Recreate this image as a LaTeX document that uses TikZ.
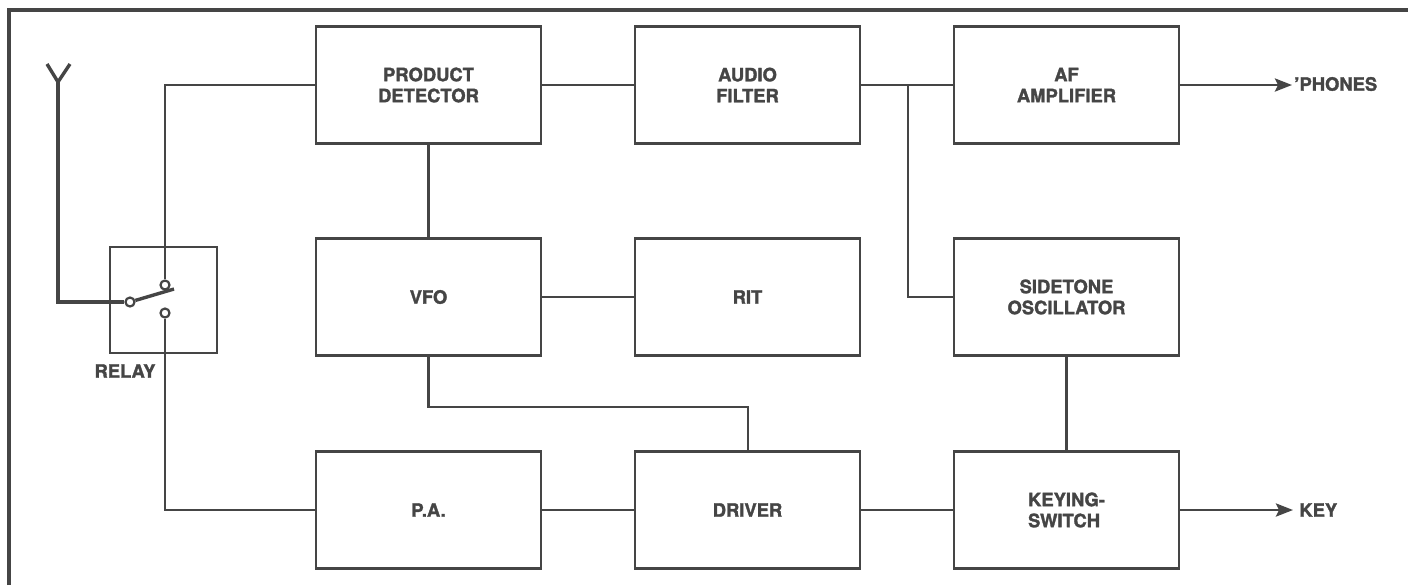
\documentclass[tikz,border=0pt]{standalone}
\usepackage{fontspec}
\setmainfont{TeX Gyre Heros}[BoldFeatures={FakeBold=1.6}]
\usetikzlibrary{arrows.meta}
\definecolor{ink}{HTML}{454545}
\begin{document}
\begin{tikzpicture}[x=0.5pt,y=-0.5pt,
  blk/.style={draw=ink, line width=1.45pt, minimum width=112.5pt, minimum height=58.5pt,
    inner sep=0pt, align=center, text=ink, font=\bfseries\fontsize{9.2}{10.5}\selectfont},
  wire/.style={draw=ink, line width=1.4pt},
  tip/.style={-{Stealth[length=8.5pt,width=6.5pt,inset=1.5pt]}},
  lbl/.style={text=ink, inner sep=0pt, font=\bfseries\fontsize{9.2}{10.5}\selectfont},
  contact/.style={circle, draw=ink, fill=white, line width=1.1pt, minimum size=4.5pt, inner sep=0pt},
  relaybox/.style={draw=ink, line width=1.45pt, minimum width=53.5pt, minimum height=53pt, inner sep=0pt}]
\useasboundingbox (0,0) rectangle (1408,585);
\fill[white] (0,0) rectangle (1408,585);
% frame
\draw[ink, line width=1.7pt] (9,585) -- (9,10) -- (1408,10);

% blocks
\node[blk] (pd)  at (428.5,85)  {PRODUCT\\DETECTOR};
\node[blk] (af)  at (747.5,85)  {AUDIO\\FILTER};
\node[blk] (amp) at (1066.5,85) {AF\\AMPLIFIER};
\node[blk] (vfo) at (428.5,297) {VFO};
\node[blk] (rit) at (747.5,297) {RIT};
\node[blk] (st)  at (1066.5,297) {SIDETONE\\OSCILLATOR};
\node[blk] (pa)  at (428.5,510) {P.A.};
\node[blk] (drv) at (747.5,510) {DRIVER};
\node[blk,align=left] (ks) at (1066.5,510) {KEYING-\\SWITCH};

% relay
\node[relaybox] (relay) at (163.5,300) {};
\node[contact] (c1) at (165,285) {};
\node[contact] (c2) at (165,313) {};
\node[contact] (pv) at (130,302) {};
\coordinate (bl) at (174,289);
\node[lbl] (rl) at (125,371) {RELAY};

% antenna
\coordinate (ant) at (58,82);
\coordinate (a1) at (47,64);
\coordinate (a2) at (70,64);
\draw[wire, line width=1.7pt] (a1) -- (ant) -- (a2);
\draw[wire, line width=1.6pt] (ant) |- (pv.west);
\draw[wire, line width=1.7pt] (pv) -- (bl);

% wiring
\draw[wire] (pd.west) -| (c1.north);
\draw[wire] (c2.south) |- (pa.west);
\draw[wire] (pd) -- (af);
\draw[wire] (af) -- (amp);
\coordinate (j) at (908,85);
\draw[wire] (j) |- (st.west);
\draw[wire] (pd) -- (vfo);
\draw[wire] (vfo) -- (rit);
\coordinate (bend) at (748,407);
\draw[wire] (vfo.south) |- (bend) -- (drv.north -| bend);
\draw[wire] (st) -- (ks);
\draw[wire] (pa) -- (drv);
\draw[wire] (drv) -- (ks);

% outputs
\coordinate (ph) at (1292,85);
\draw[wire,tip] (amp.east) -- (ph);
\node[lbl,anchor=west] (phl) at (1294,84) {’PHONES};
\coordinate (kt) at (1293,510);
\draw[wire,tip] (ks.east) -- (kt);
\node[lbl,anchor=west] (kl) at (1299,510) {KEY};
\end{tikzpicture}
\end{document}
